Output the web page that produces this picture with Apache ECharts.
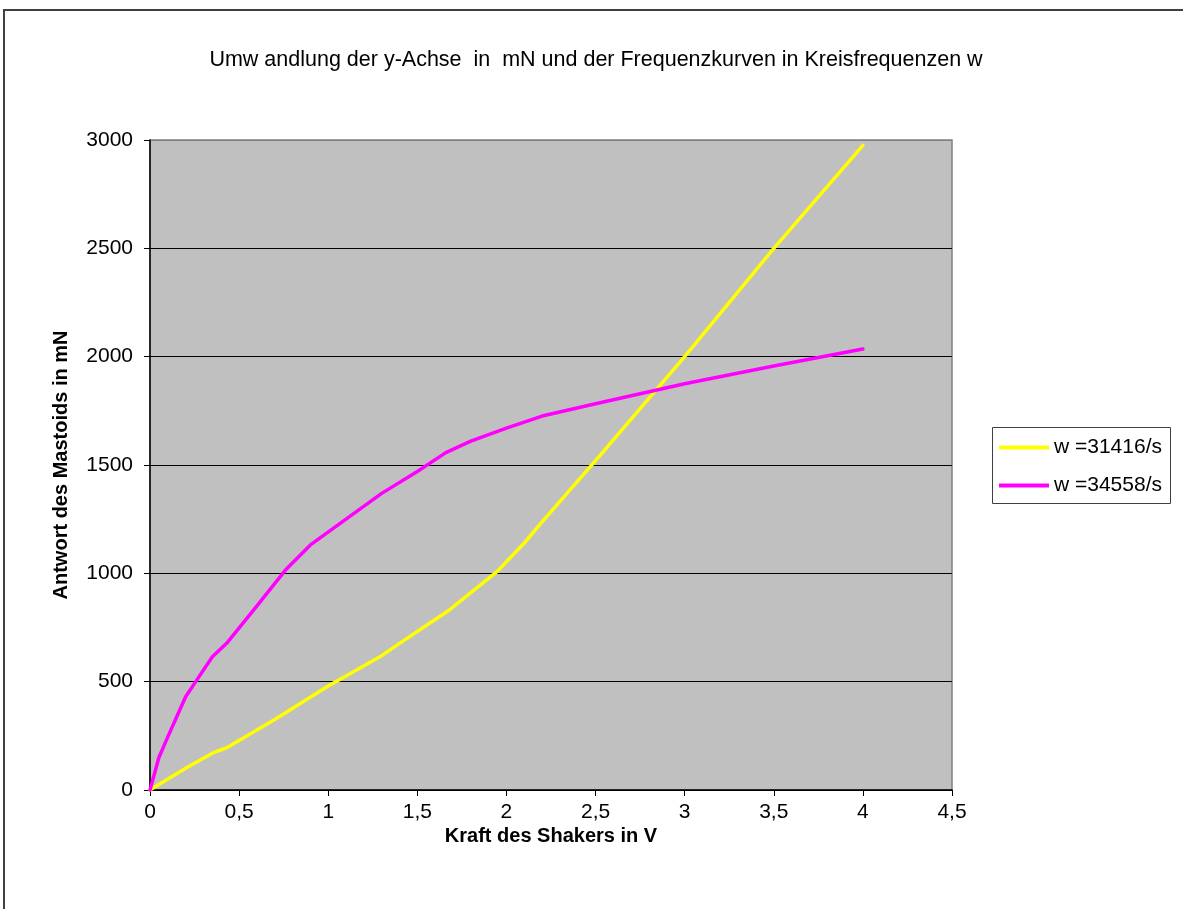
<!DOCTYPE html>
<html>
<head>
<meta charset="utf-8">
<script src="https://cdn.jsdelivr.net/npm/echarts@6/dist/echarts.min.js"></script>
<style>
html,body{margin:0;padding:0;background:#fff;}
#chart{width:1183px;height:909px;}
</style>
</head>
<body>
<div id="chart"></div>
<script>
var titleText = 'Umw andlung der y-Achse  in  mN und der Frequenzkurven in Kreisfrequenzen w';
var xAxisTitle = 'Kraft des Shakers in V';
var yAxisTitle = 'Antwort des Mastoids in mN';
var seriesNames = ['w =31416/s', 'w =34558/s'];

var xYellow = [0, 0.2, 0.35, 0.43, 0.7, 1.0, 1.3, 1.4, 1.68, 1.95, 2.1, 2.2, 2.5, 3, 3.5, 4];
var yYellow = [0, 100, 170, 195, 325, 480, 620, 677, 831, 1010, 1140, 1238, 1520, 2000, 2500, 2975];

var xMagenta = [0, 0.05, 0.1, 0.15, 0.2, 0.25, 0.35, 0.43, 0.6, 0.76, 0.9, 1.1, 1.3, 1.5, 1.66, 1.8, 2, 2.2, 2.5, 3, 3.5, 4];
var yMagenta = [0, 150, 245, 338, 430, 492, 615, 677, 850, 1015, 1131, 1250, 1369, 1470, 1557, 1610, 1670, 1726, 1783, 1875, 1957, 2035];

function pairs(xs, ys) { return xs.map(function (x, i) { return [x, ys[i]]; }); }

var FONT = 'Liberation Sans, Arial, sans-serif';
var chart = echarts.init(document.getElementById('chart'));
chart.setOption({
  animation: false,
  backgroundColor: '#ffffff',
  grid: {
    left: 150, top: 140, width: 802, height: 650,
    show: true, backgroundColor: '#c0c0c0', borderColor: '#808080', borderWidth: 1.5
  },
  xAxis: {
    type: 'value', min: 0, max: 4.5, interval: 0.5,
    axisLine: { show: true, onZero: false, lineStyle: { color: '#000', width: 1.5 } },
    axisTick: { show: true, inside: false, length: 6, lineStyle: { color: '#000' } },
    axisLabel: { margin: 12, color: '#000', fontSize: 21, fontFamily: FONT,
      formatter: function (v) { return String(v).replace('.', ','); } },
    splitLine: { show: false }
  },
  yAxis: {
    type: 'value', min: 0, max: 3000, interval: 500,
    axisLine: { show: true, lineStyle: { color: '#000', width: 1.5 } },
    axisTick: { show: true, inside: false, length: 6, lineStyle: { color: '#000' } },
    axisLabel: { margin: 17, color: '#000', fontSize: 21, fontFamily: FONT,
      formatter: function (v) { return String(v); } },
    splitLine: { show: true, lineStyle: { color: ['#000','#000','#000','#000','#000','#000','#808080'], width: 1 } }
  },
  legend: {
    left: 999, top: 437, orient: 'vertical', itemGap: 17, padding: 0,
    itemWidth: 50, itemHeight: 4, icon: 'rect',
    textStyle: { fontSize: 21, fontFamily: FONT, color: '#000', lineHeight: 20, padding: [0,0,0,0] },
    data: seriesNames
  },
  graphic: [
    { type: 'rect', z: -10, silent: true, shape: { x: 4, y: 10, width: 1400, height: 1200 },
      style: { fill: 'none', stroke: '#404040', lineWidth: 2 } },
    { type: 'rect', z: 0, silent: true, shape: { x: 992.5, y: 427.5, width: 178, height: 76 },
      style: { fill: '#fff', stroke: '#404040', lineWidth: 1 } },
    { type: 'text', x: 596, y: 60, style: { text: titleText, fontSize: 21.5, fontFamily: FONT, fill: '#000', textAlign: 'center', textVerticalAlign: 'middle' } },
    { type: 'text', x: 551, y: 836, style: { text: xAxisTitle, fontSize: 20, fontWeight: 'bold', fontFamily: FONT, fill: '#000', textAlign: 'center', textVerticalAlign: 'middle' } },
    { type: 'text', x: 61, y: 465, rotation: Math.PI / 2, style: { text: yAxisTitle, fontSize: 20, fontWeight: 'bold', fontFamily: FONT, fill: '#000', textAlign: 'center', textVerticalAlign: 'middle' } }
  ],
  series: [
    { name: seriesNames[0], type: 'line', data: pairs(xYellow, yYellow), showSymbol: false, symbol: 'none',
      color: '#ffff00', lineStyle: { color: '#ffff00', width: 3.5, cap: 'round', join: 'round' }, z: 3 },
    { name: seriesNames[1], type: 'line', data: pairs(xMagenta, yMagenta), showSymbol: false, symbol: 'none',
      color: '#ff00ff', lineStyle: { color: '#ff00ff', width: 3.5, cap: 'round', join: 'round' }, z: 4 }
  ]
});
</script>
</body>
</html>
